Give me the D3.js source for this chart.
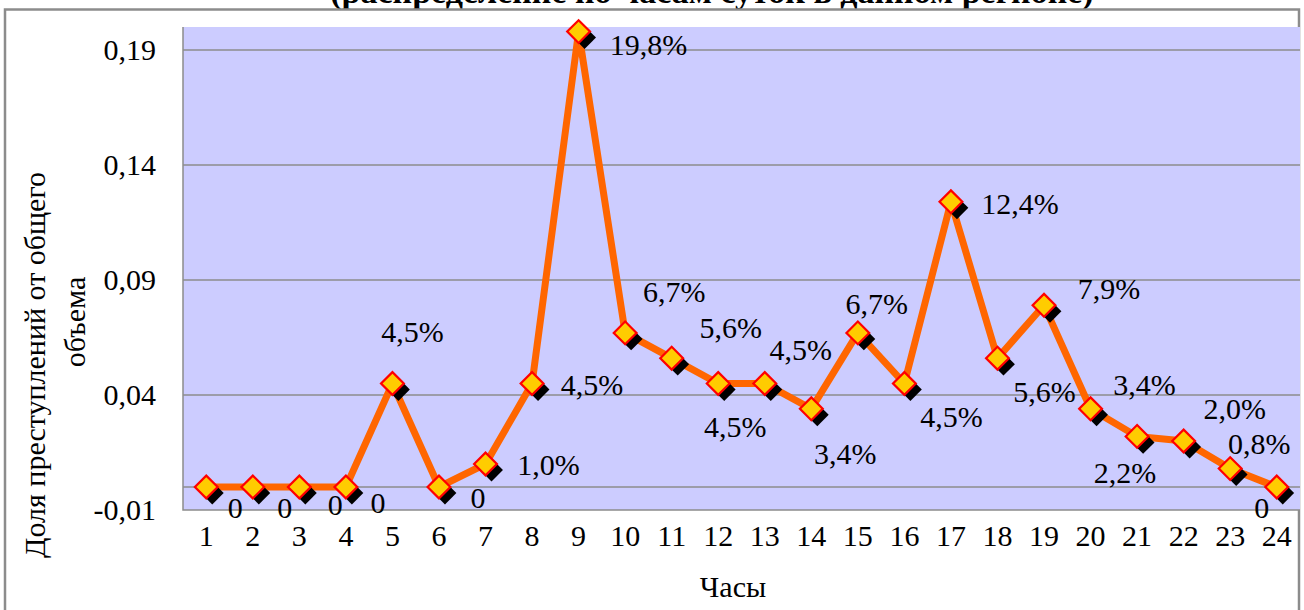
<!DOCTYPE html>
<html><head><meta charset="utf-8">
<script src="https://cdn.jsdelivr.net/npm/d3@7"></script>
</head>
<body style="margin:0">
<svg id="chart" width="1304" height="610"></svg>
<script>
// ---- data ----
const hours = [1,2,3,4,5,6,7,8,9,10,11,12,13,14,15,16,17,18,19,20,21,22,23,24];
const shares = [0,0,0,0,0.045,0,0.010,0.045,0.198,0.067,0.056,0.045,0.045,0.034,0.067,0.045,0.124,0.056,0.079,0.034,0.022,0.020,0.008,0];
const pointLabels = ["0","0","0","0","4,5%","0","1,0%","4,5%","19,8%","6,7%","5,6%","4,5%","4,5%","3,4%","6,7%","4,5%","12,4%","5,6%","7,9%","3,4%","2,2%","2,0%","0,8%","0"];
const yTicks = [-0.01,0.04,0.09,0.14,0.19];
const yTitleLines = ["Доля преступлений от общего","объема"];
const xTitle = "Часы";
const chartTitle = "(распределение по часам суток в данном регионе)";
// label placement (layout only): offset from point in px
const labelOffsets = [[29,20],[32,20],[36,17],[32,15],[20,-52],[39,10],[63,0],[60,1],[70,13],[49,-41],[59,-31],[17,43],[36,-34],[34,45],[19,-29],[47,33],[69,2],[47,33],[65,-17],[54,-24],[-12,36],[51,-33],[29,-25],[-15,20]];

const FONT = "Tinos";
const FS = 30;
const svg = d3.select("#chart");
const L = 183, R = 1300, T = 27, B = 510;

const x = d3.scaleBand().domain(hours).range([L, R]).padding(0);
const y = d3.scaleLinear().domain([-0.01, 0.2]).range([B, T]);
const cx = h => x(h) + x.bandwidth()/2;

function addText(parent){ return parent.append("text").attr("font-family", FONT).attr("fill","#000"); }

// title (cropped at top, as in the reference)
addText(svg).attr("x", 712).attr("y", 3).attr("text-anchor","middle")
  .attr("font-size", 34).attr("font-weight","bold").text(chartTitle);

// outer frame
svg.append("rect").attr("x",5).attr("y",9.5).attr("width",1294).attr("height",640)
  .attr("fill","none").attr("stroke","#8c8c8c").attr("stroke-width",2.5);

// plot background
svg.append("rect").attr("x",L).attr("y",T).attr("width",R-L).attr("height",B-T).attr("fill","#CCCCFF");

// gridlines
const gridVals = yTicks.filter(v => v > -0.01).concat([0]);
svg.append("g").selectAll("line").data(gridVals).join("line")
  .attr("x1",L).attr("x2",R).attr("y1",d=>y(d)).attr("y2",d=>y(d))
  .attr("stroke","#8c8c8c").attr("stroke-width",1.5);

// plot border (left, bottom)
svg.append("path").attr("d",`M${L},${T}V${B}H${R}`).attr("fill","none")
  .attr("stroke","#8c8c8c").attr("stroke-width",1.5);

// y axis labels
const fmt = v => d3.format(".2f")(v).replace(".", ",").replace("−","-");
const yAxis = d3.axisLeft(y).tickValues(yTicks).tickSize(0).tickPadding(0).tickFormat(fmt);
const yg = svg.append("g").attr("transform",`translate(156,0)`).call(yAxis);
yg.attr("font-family",FONT).attr("font-size",FS);
yg.select(".domain").remove();
yg.selectAll("text").attr("font-family",FONT).attr("font-size",FS).attr("fill","#000");

// x axis labels
const xAxis = d3.axisBottom(x).tickSize(0).tickPadding(0);
const xg = svg.append("g").attr("transform",`translate(0,${B+15})`).call(xAxis);
xg.attr("font-family",FONT).attr("font-size",FS);
xg.select(".domain").remove();
xg.selectAll("text").attr("font-family",FONT).attr("font-size",FS).attr("fill","#000");

// axis titles
addText(svg).attr("x",733).attr("y",597).attr("text-anchor","middle").attr("font-size",FS).text(xTitle);
addText(svg).attr("transform","translate(45,365) rotate(-90)").attr("text-anchor","middle").attr("font-size",FS).text(yTitleLines[0]);
addText(svg).attr("transform","translate(85,322) rotate(-90)").attr("text-anchor","middle").attr("font-size",FS).text(yTitleLines[1]);

// line
const line = d3.line().x((d,i)=>cx(hours[i])).y(d=>y(d));
svg.append("path").datum(shares).attr("d",line).attr("fill","none")
  .attr("stroke","#FF6600").attr("stroke-width",7).attr("stroke-linejoin","miter");

// markers
const sq = d3.symbol().type(d3.symbolSquare).size(260)();
const mk = svg.append("g");
mk.selectAll("path.sh").data(shares).join("path").attr("class","sh")
  .attr("transform",(d,i)=>`translate(${cx(hours[i])+6},${y(d)+6}) rotate(45)`)
  .attr("d", sq).attr("fill","#000");
mk.selectAll("path.m").data(shares).join("path").attr("class","m")
  .attr("transform",(d,i)=>`translate(${cx(hours[i])},${y(d)}) rotate(45)`)
  .attr("d", sq)
  .attr("fill","#FFCC00").attr("stroke","#FF0000").attr("stroke-width",2.2);

// data labels
svg.append("g").selectAll("text").data(shares).join("text")
  .attr("x",(d,i)=>cx(hours[i])+labelOffsets[i][0])
  .attr("y",(d,i)=>y(d)+labelOffsets[i][1])
  .attr("text-anchor","middle").attr("dominant-baseline","central")
  .attr("font-family",FONT).attr("font-size",FS).attr("fill","#000")
  .text((d,i)=>pointLabels[i]);
</script>
</body></html>
